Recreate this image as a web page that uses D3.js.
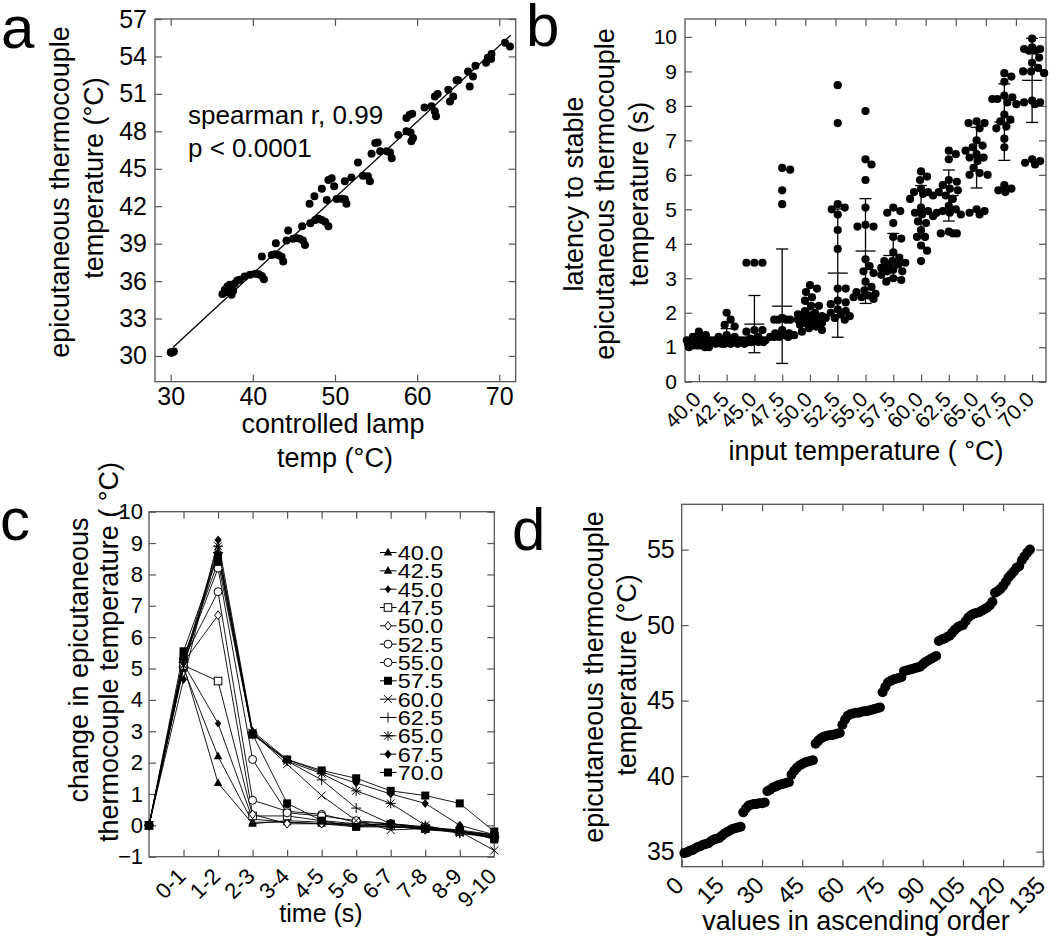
<!DOCTYPE html>
<html><head><meta charset="utf-8">
<script src="https://cdn.jsdelivr.net/npm/d3@7"></script>
<style>body{margin:0;background:#fff}</style>
</head><body>
<svg id="fig" width="1050" height="946"></svg>
<script>
// ---------- panel a data ----------
const aLamp = [30.0,30.2,30.4,30.1,
 36.3,36.6,36.9,37.2,37.4,37.6,37.8,38.1,38.4,37.5,37.0,
 39.0,39.65,40.3,40.7,41.1,41.35,41.1,
 42.3,42.7,43.1,43.5,43.7,42.8,44.3,44.1,44.9,45.3,45.7,46.1,46.35,46.0,
 47.0,47.6,48.0,48.4,48.8,49.2,46.9,47.5,48.4,49.0,49.2,49.6,49.9,50.2,50.8,51.2,51.4,51.2,
 52.0,52.8,53.4,54.0,54.25,54.45,54.9,55.2,55.5,56.3,56.7,56.9,57.7,
 58.7,59.2,59.5,59.3,58.7,59.1,59.4,
 60.9,61.75,62.15,62.3,62.15,62.5,
 63.8,64.0,64.4,64.8,65.0,
 66.2,66.4,66.8,67.1,
 68.4,68.6,69.05,69.0,
 70.7,71.3];
const aEpi = [30.3,30.3,30.35,30.25,
 34.97,35.3,35.56,35.7,34.9,35.2,35.8,36.04,36.1,35.5,35.1,
 36.36,36.5,36.58,36.55,36.4,36.15,37.97,
 38.1,38.15,38.1,37.95,37.57,39.04,40.05,39.25,39.4,39.45,39.4,39.25,38.9,40.4,
 40.64,40.9,41.0,40.9,40.75,40.4,42.2,42.8,43.4,42.5,44.1,44.25,43.6,42.57,42.6,42.55,42.2,44.0,
 44.3,45.5,44.44,44.4,44.0,46.2,47.06,47.1,46.4,46.4,46.3,45.85,47.7,
 48.0,47.9,47.46,47.2,49.06,49.33,49.4,
 49.9,50.0,49.6,49.2,50.8,51.0,
 51.34,50.4,50.8,52.1,52.1,
 52.8,51.6,52.4,53.26,
 53.5,53.9,54.2,53.8,
 55.1,54.8];
const aFitX = [30.3, 71.4];
const aFitY = [30.7, 55.7];
const aXTicks = [30,40,50,60,70];
const aYTicks = [30,33,36,39,42,45,48,51,54,57];

// ---------- panel b data ----------
const bCats = ["40.0","42.5","45.0","47.5","50.0","52.5","55.0","57.5","60.0","62.5","65.0","67.5","70.0"];
const bMeans = [1.17,1.29,1.67,2.19,1.95,3.15,3.79,3.66,4.94,5.40,6.50,7.53,8.74];
const bSDs   = [0.10,0.25,0.83,1.66,0.30,1.86,1.52,0.64,0.75,0.74,0.88,1.11,1.22];
const bValues = [
 [1.35,1.45,1.3,1.25,1.2,1.2,1.15,1.15,1.1,1.1,1.1,1.05,1.05,1.05,1.0,1.0,1.0,1.2,1.15,1.1],
 [2.0,1.8,1.65,1.6,1.35,1.3,1.3,1.25,1.2,1.2,1.15,1.15,1.1,1.1,1.1,1.1,1.1,1.15,1.2],
 [3.45,3.45,3.45,1.5,1.5,1.45,1.2,1.2,1.15,1.15,1.2,1.25,1.1,1.15,1.2,1.3,1.2,1.15],
 [6.2,6.15,5.55,5.15,1.8,1.8,1.8,1.8,1.85,1.5,1.4,1.35,1.3,1.3,1.35,1.3,1.3,1.4],
 [2.8,2.7,2.6,2.45,2.35,2.2,2.2,2.05,1.95,1.9,1.85,1.8,1.75,1.7,1.65,1.6,1.55,1.5,1.45,1.7,1.8,1.9,2.0],
 [8.6,7.5,5.15,5.05,5.0,4.85,4.4,3.85,2.7,2.7,2.35,2.3,2.25,2.1,2.05,2.0,1.95,1.9,1.85,1.85,1.8],
 [7.85,6.45,6.3,5.85,5.05,4.55,4.5,4.5,3.55,3.35,3.2,3.15,2.9,2.75,2.65,2.6,2.55,2.5,2.45,2.45,2.4],
 [5.05,4.95,4.9,4.6,4.2,4.15,3.75,3.6,3.5,3.45,3.4,3.3,3.25,3.2,3.2,3.1,3.0,2.95,2.9,3.5,3.4],
 [6.1,5.95,5.85,5.6,5.5,5.45,5.4,5.3,5.05,4.95,4.85,4.8,4.65,4.6,4.4,4.2,4.2,3.95,3.8,3.5,4.9,5.5],
 [6.7,6.6,6.45,5.85,5.8,5.7,5.6,5.55,5.5,5.4,5.3,5.0,4.95,4.9,4.9,4.85,4.35,4.3,4.3,4.3,5.1],
 [7.55,7.5,7.5,7.35,7.0,6.85,6.8,6.7,6.6,6.5,6.5,6.2,6.05,6.0,6.0,5.0,4.95,4.9,4.85,6.4],
 [8.95,8.85,8.7,8.3,8.25,8.2,8.2,8.1,7.75,7.55,7.4,7.35,7.05,6.8,5.7,5.6,5.55,5.5,8.05,7.6],
 [9.95,9.7,9.65,9.65,9.6,9.4,9.25,9.1,9.0,9.0,8.95,8.15,8.1,8.1,8.05,6.45,6.4,6.35,6.3,9.6]
];
const bYTicks = [0,1,2,3,4,5,6,7,8,9,10];

// ---------- panel c data ----------
const cTimes = ["0","0-1","1-2","2-3","3-4","4-5","5-6","6-7","7-8","8-9","9-10"];
const cNames = ["40.0","42.5","45.0","47.5","50.0","52.5","55.0","57.5","60.0","62.5","65.0","67.5","70.0"];
const cMarkers = ["tri","tri","sdia","osq","odia","ocirc","ocirc","sq","x","plus","star","dia","sq"];
const cValues = [
 [0,5.10,1.35,0.05,0.15,0.10,0.00,-0.05,-0.10,-0.20,-0.35],
 [0,5.00,2.20,0.10,0.10,0.05,-0.05,-0.05,-0.10,-0.20,-0.40],
 [0,5.15,3.25,0.20,0.10,0.05,0.00,-0.05,-0.10,-0.20,-0.30],
 [0,5.10,4.60,0.30,0.30,0.15,0.05,0.00,-0.10,-0.20,-0.35],
 [0,5.20,6.70,0.35,0.05,0.05,0.05,0.00,-0.15,-0.20,-0.30],
 [0,5.30,7.45,0.80,0.45,0.35,0.10,0.05,-0.05,-0.15,-0.30],
 [0,5.30,8.20,2.10,0.40,0.30,0.15,0.05,-0.05,-0.20,-0.40],
 [0,5.35,8.40,2.90,0.70,0.15,-0.05,0.05,-0.10,-0.15,-0.45],
 [0,5.10,8.80,2.95,1.95,0.95,0.15,-0.15,-0.10,-0.20,-0.80],
 [0,5.05,8.70,2.90,2.05,1.45,0.55,0.05,-0.10,-0.25,-0.35],
 [0,5.20,8.90,2.95,2.05,1.65,1.10,0.70,0.00,-0.25,-0.40],
 [0,4.65,9.10,3.00,2.10,1.70,1.35,1.00,0.70,0.00,-0.30],
 [0,5.55,8.60,2.90,2.10,1.75,1.50,1.10,0.95,0.70,-0.20]
];
const cYTicks = [-1,0,1,2,3,4,5,6,7,8,9,10];

// ---------- panel d data ----------
const dValues = [34.9,34.95,35.05,35.1,35.2,35.3,35.35,35.45,35.5,35.55,35.7,35.8,35.85,35.9,36.05,36.2,36.3,36.4,36.5,36.55,36.6,36.65,
 37.6,37.85,38.05,38.1,38.15,38.15,38.2,38.2,38.25,
 39.0,39.1,39.25,39.3,39.4,39.45,39.5,39.55,39.6,
 40.1,40.35,40.55,40.7,40.8,40.9,40.95,41.0,41.05,
 42.15,42.35,42.5,42.6,42.65,42.7,42.7,42.75,42.8,42.85,
 43.4,43.75,44.0,44.1,44.15,44.2,44.2,44.25,44.3,44.3,44.35,44.4,44.45,44.5,44.55,
 45.55,45.9,46.2,46.3,46.4,46.45,46.5,46.55,46.95,47.0,47.05,47.1,47.15,47.2,47.25,47.4,47.55,47.65,47.75,47.85,47.95,
 48.95,49.05,49.1,49.2,49.3,49.5,49.7,49.85,49.95,50.0,50.25,50.5,50.65,50.75,50.8,50.85,50.95,51.05,51.15,51.3,51.55,
 52.15,52.25,52.4,52.6,52.85,53.15,53.35,53.55,53.8,53.9,54.3,54.55,54.8,55.0];
const dXTicks = [0,15,30,45,60,75,90,105,120,135];
const dYTicks = [35,40,45,50,55];

// ================= drawing =================
const svg = d3.select("#fig");
const FONT = '"Liberation Sans", Arial, Helvetica, sans-serif';
const FR = "#555";
const TL = 7;

function frame(x0,y0,x1,y1){
  svg.append("rect").attr("x",x0).attr("y",y0).attr("width",x1-x0).attr("height",y1-y0)
    .attr("fill","none").attr("stroke",FR).attr("stroke-width",1.3);
}
function style(g, fs){
  g.select(".domain").remove();
  g.selectAll(".tick line").attr("stroke",FR).attr("stroke-width",1.2);
  g.selectAll(".tick text").attr("font-family",FONT).attr("font-size",fs).attr("fill","#000");
  return g;
}
function txt(x,y,s,fs,anchor,rot){
  const t = svg.append("text").attr("font-family",FONT).attr("font-size",fs).attr("fill","#000")
    .attr("text-anchor",anchor||"start").text(s);
  if(rot){ t.attr("transform",`translate(${x},${y}) rotate(${rot})`); }
  else { t.attr("x",x).attr("y",y); }
  return t;
}
function rotLabels(g, dx, dy){
  g.selectAll(".tick text").attr("text-anchor","end").attr("dy",null)
    .attr("transform",`translate(${dx},${dy}) rotate(-45)`).attr("y",0).attr("x",0);
}

// ---------- panel a ----------
{
  const L=155,R=515.7,T=19,B=381.7;
  const x = d3.scaleLinear().domain([28.09,72.0]).range([L,R]);
  const y = d3.scaleLinear().domain([27.94,57]).range([B,T]);
  style(svg.append("g").attr("transform",`translate(0,${B})`).call(d3.axisBottom(x).tickValues(aXTicks).tickSize(-TL).tickPadding(6)),25);
  style(svg.append("g").attr("transform",`translate(0,${T})`).call(d3.axisTop(x).tickValues(aXTicks).tickSize(-TL).tickFormat("")),25);
  style(svg.append("g").attr("transform",`translate(${L},0)`).call(d3.axisLeft(y).tickValues(aYTicks).tickSize(-TL).tickPadding(8)),25);
  style(svg.append("g").attr("transform",`translate(${R},0)`).call(d3.axisRight(y).tickValues(aYTicks).tickSize(-TL).tickFormat("")),25);
  frame(L,T,R,B);
  svg.append("line").attr("x1",x(aFitX[0])).attr("y1",y(aFitY[0])).attr("x2",x(aFitX[1])).attr("y2",y(aFitY[1]))
    .attr("stroke","#000").attr("stroke-width",1.3);
  svg.append("g").selectAll("circle").data(aLamp).enter().append("circle")
    .attr("cx",(d)=>x(d)).attr("cy",(d,i)=>y(aEpi[i])).attr("r",4).attr("fill","#000");
  txt(188,124,"spearman r, 0.99",26);
  txt(188,157,"p < 0.0001",26);
  txt(69,192,"epicutaneous thermocouple",27,"middle",-90);
  txt(103,178,"temperature (°C)",27,"middle",-90);
  txt(333,433,"controlled lamp",27,"middle");
  txt(335,467,"temp (°C)",27,"middle");
  txt(1,48,"a",60);
}

// ---------- panel b ----------
{
  const L=685,R=1046,T=19,B=381.7;
  const x = d3.scalePoint().domain(bCats).range([L,R]).padding(0.5);
  const y = d3.scaleLinear().domain([0,10.52]).range([B,T]);
  const xt = d3.scaleLinear().domain([0,12]).range([L,R]);
  const gx = style(svg.append("g").attr("transform",`translate(0,${B})`).call(d3.axisBottom(x).tickSize(-TL).tickPadding(0)),21);
  rotLabels(gx,3,19);
  style(svg.append("g").attr("transform",`translate(0,${T})`).call(d3.axisTop(xt).tickValues(d3.range(1,12)).tickSize(-TL).tickFormat("")),21);
  style(svg.append("g").attr("transform",`translate(${L},0)`).call(d3.axisLeft(y).tickValues(bYTicks).tickSize(-TL).tickPadding(8)),21);
  style(svg.append("g").attr("transform",`translate(${R},0)`).call(d3.axisRight(y).tickValues(bYTicks).tickSize(-TL).tickFormat("")),21);
  frame(L,T,R,B);
  const r=4.1;
  bCats.forEach((c,gi)=>{
    const cx = x(c);
    const pts = bValues[gi].map(v=>({v:v, y:y(v)})).sort((a,b)=>a.y-b.y);
    const placed=[];
    pts.forEach(p=>{
      let best=cx, bestD=-1, done=false;
      for(let k=0;k<=12 && !done;k++){
        for(const s of (k===0?[0]:[k,-k])){
          const px=cx+s; let md=Infinity;
          placed.forEach(q=>{const d=Math.hypot(q.x-px,q.y-p.y); if(d<md) md=d;});
          if(md>=2*r-0.5){best=px;done=true;break;}
          if(md>bestD){bestD=md;best=px;}
        }
      }
      p.x=best; placed.push(p);
    });
    svg.append("g").selectAll("circle").data(placed).enter().append("circle")
      .attr("cx",d=>d.x).attr("cy",d=>d.y).attr("r",r).attr("fill","#000");
    const m=bMeans[gi], s=bSDs[gi];
    const g=svg.append("g").attr("stroke","#000").attr("stroke-width",1.3);
    g.append("line").attr("x1",cx).attr("x2",cx).attr("y1",y(m-s)).attr("y2",y(m+s));
    g.append("line").attr("x1",cx-6).attr("x2",cx+6).attr("y1",y(m-s)).attr("y2",y(m-s));
    g.append("line").attr("x1",cx-6).attr("x2",cx+6).attr("y1",y(m+s)).attr("y2",y(m+s));
    g.append("line").attr("x1",cx-10).attr("x2",cx+10).attr("y1",y(m)).attr("y2",y(m));
  });
  txt(582.7,194,"latency to stable",27,"middle",-90);
  txt(614,194,"epicutaneous thermocouple",27,"middle",-90);
  txt(647.7,194,"temperature (s)",27,"middle",-90);
  txt(866,460,"input temperature ( °C)",27,"middle");
  txt(526,46,"b",60);
}

// ---------- panel c ----------
function marker(g, type, cx, cy){
  const m = g.append("g").attr("transform",`translate(${cx},${cy})`);
  const sw=1;
  switch(type){
    case "tri": m.append("path").attr("d","M0,-4.8L4.3,3L-4.3,3Z").attr("fill","#000"); break;
    case "sdia": m.append("path").attr("d","M0,-4L3.2,0L0,4L-3.2,0Z").attr("fill","#000"); break;
    case "dia": m.append("path").attr("d","M0,-4.5L3.6,0L0,4.5L-3.6,0Z").attr("fill","#000"); break;
    case "osq": m.append("rect").attr("x",-3.8).attr("y",-3.8).attr("width",7.6).attr("height",7.6).attr("fill","#fff").attr("stroke","#000").attr("stroke-width",sw); break;
    case "odia": m.append("path").attr("d","M0,-4.3L3.4,0L0,4.3L-3.4,0Z").attr("fill","#fff").attr("stroke","#000").attr("stroke-width",sw); break;
    case "ocirc": m.append("circle").attr("r",4).attr("fill","#fff").attr("stroke","#000").attr("stroke-width",sw); break;
    case "sq": m.append("rect").attr("x",-4).attr("y",-4).attr("width",8).attr("height",8).attr("fill","#000"); break;
    case "x": m.append("path").attr("d","M-4,-4L4,4M-4,4L4,-4").attr("stroke","#000").attr("stroke-width",sw); break;
    case "plus": m.append("path").attr("d","M-5,0L5,0M0,-5L0,5").attr("stroke","#000").attr("stroke-width",sw); break;
    case "star": m.append("path").attr("d","M-4,-4L4,4M-4,4L4,-4M-5,0L5,0M0,-5L0,5").attr("stroke","#000").attr("stroke-width",sw); break;
  }
}
{
  const L=149,R=494.3,T=511.7,B=856.7;
  const x = d3.scalePoint().domain(cTimes).range([L,R]);
  const y = d3.scaleLinear().domain([-1,10]).range([B,T]);
  const labT = cTimes.slice(1);
  const inner = cTimes.slice(1,10);
  const gx = style(svg.append("g").attr("transform",`translate(0,${B})`).call(d3.axisBottom(x).tickValues(labT).tickSize(-TL).tickPadding(0)),22);
  gx.selectAll(".tick line").attr("opacity",(d)=>d==="9-10"?0:1);
  rotLabels(gx,3,21);
  style(svg.append("g").attr("transform",`translate(0,${T})`).call(d3.axisTop(x).tickValues(inner).tickSize(-TL).tickFormat("")),22);
  style(svg.append("g").attr("transform",`translate(${L},0)`).call(d3.axisLeft(y).tickValues(cYTicks).tickSize(-TL).tickPadding(6)),22);
  style(svg.append("g").attr("transform",`translate(${R},0)`).call(d3.axisRight(y).tickValues(cYTicks).tickSize(-TL).tickFormat("")),22);
  frame(L,T,R,B);
  const line = d3.line().x((d,i)=>x(cTimes[i])).y(d=>y(d));
  cValues.forEach(vals=>{
    svg.append("path").attr("d",line(vals)).attr("fill","none").attr("stroke","#000").attr("stroke-width",0.9);
  });
  cValues.forEach((vals,si)=>{
    const g=svg.append("g");
    vals.forEach((v,i)=>marker(g,cMarkers[si],x(cTimes[i]),y(v)));
  });
  // legend
  const lg = svg.append("g");
  cNames.forEach((n,k)=>{
    const ly = 552.5 + k*18.33;
    lg.append("line").attr("x1",380).attr("x2",396.5).attr("y1",ly).attr("y2",ly).attr("stroke","#000").attr("stroke-width",1);
    marker(lg,cMarkers[k],388,ly);
    lg.append("text").attr("x",397.7).attr("y",ly).attr("dy","0.36em").attr("font-family",FONT).attr("font-size",21)
      .attr("textLength",45.5).attr("lengthAdjust","spacingAndGlyphs").text(n);
  });
  txt(87.7,660,"change in epicutaneous",27,"middle",-90);
  txt(117.7,652,"thermocouple temperature ( °C)",27,"middle",-90);
  txt(321,922,"time (s)",25,"middle");
  txt(0,540,"c",60);
}

// ---------- panel d ----------
{
  const L=681.7,R=1043.3,T=504.3,B=866.7;
  const x = d3.scaleLinear().domain([0,135]).range([L,R]);
  const y = d3.scaleLinear().domain([34,58]).range([B,T]);
  const gx = style(svg.append("g").attr("transform",`translate(0,${B})`).call(d3.axisBottom(x).tickValues(dXTicks).tickSize(-TL).tickPadding(0)),24);
  rotLabels(gx,3,20);
  style(svg.append("g").attr("transform",`translate(0,${T})`).call(d3.axisTop(x).tickValues(dXTicks.slice(1,9)).tickSize(-TL).tickFormat("")),24);
  style(svg.append("g").attr("transform",`translate(${L},0)`).call(d3.axisLeft(y).tickValues(dYTicks).tickSize(-TL).tickPadding(7)),25);
  style(svg.append("g").attr("transform",`translate(${R},0)`).call(d3.axisRight(y).tickValues(dYTicks).tickSize(-TL).tickFormat("")),25);
  frame(L,T,R,B);
  svg.append("g").selectAll("circle").data(dValues).enter().append("circle")
    .attr("cx",(d,i)=>x(i+1)).attr("cy",d=>y(d)).attr("r",5).attr("fill","#000");
  txt(602.7,677,"epicutaneous thermocouple",27,"middle",-90);
  txt(636,675,"temperature (°C)",27,"middle",-90);
  txt(856,930,"values in ascending order",27,"middle");
  txt(512,550,"d",60);
}
</script>
</body></html>
